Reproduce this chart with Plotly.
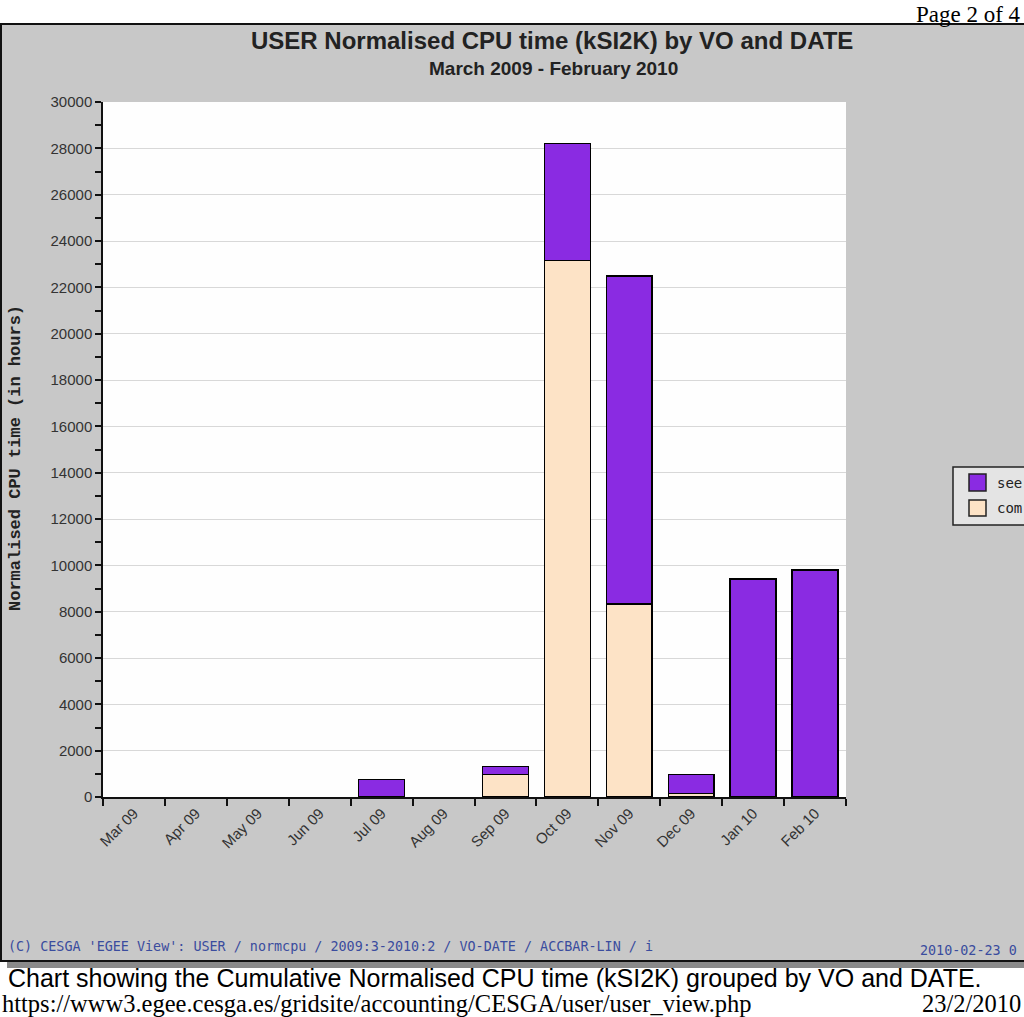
import plotly.graph_objects as go

months = ["Mar 09", "Apr 09", "May 09", "Jun 09", "Jul 09", "Aug 09",
          "Sep 09", "Oct 09", "Nov 09", "Dec 09", "Jan 10", "Feb 10"]
see_vals = [0, 0, 0, 0, 760, 0, 330, 5050, 14160, 830, 9400, 9800]
comp_vals = [0, 0, 0, 0, 0, 0, 980, 23160, 8330, 150, 0, 0]
vo_names = ["see", "com"]
colors = ["#8a2be2", "#fde3c6"]

W, H = 1024, 1017
L, R, T, B = 103, 178, 102, 220
PW, PH = W - L - R, H - T - B


def px(x):
    return (x - L) / PW


def py(y):
    return (H - B - y) / PH


def nz(vals):
    # empty months draw no bar at all
    return [v if v else None for v in vals]


fig = go.Figure()
fig.add_trace(go.Bar(x=months, y=nz(comp_vals), name=vo_names[1], marker_color=colors[1],
                     marker_line=dict(color="black", width=1.5), showlegend=False))
fig.add_trace(go.Bar(x=months, y=nz(see_vals), name=vo_names[0], marker_color=colors[0],
                     marker_line=dict(color="black", width=1.5), showlegend=False))

shapes = []
# gray panel
shapes.append(dict(type="rect", xref="paper", yref="paper", x0=px(0), x1=px(1030), y0=py(961), y1=py(24),
                   fillcolor="#c8c8c8", line_width=0, layer="below"))
# shadow
shapes.append(dict(type="rect", xref="paper", yref="paper", x0=px(7), x1=px(1030), y0=py(968), y1=py(962),
                   fillcolor="#8a8a8a", line_width=0, layer="below"))
# borders
shapes.append(dict(type="line", xref="paper", yref="paper", x0=px(0), x1=px(1030), y0=py(24), y1=py(24),
                   line=dict(color="#111", width=2), layer="below"))
shapes.append(dict(type="line", xref="paper", yref="paper", x0=px(1), x1=px(1), y0=py(24), y1=py(961),
                   line=dict(color="#111", width=2), layer="below"))
shapes.append(dict(type="line", xref="paper", yref="paper", x0=px(0), x1=px(1030), y0=py(961), y1=py(961),
                   line=dict(color="#111", width=2), layer="below"))
# white plot area
shapes.append(dict(type="rect", xref="paper", yref="paper", x0=0, x1=1, y0=0, y1=1,
                   fillcolor="#fefefe", line_width=0, layer="below"))
# legend box
shapes.append(dict(type="rect", xref="paper", yref="paper", x0=px(953), x1=px(1040), y0=py(525), y1=py(467),
                   fillcolor="#e4e4e4", line=dict(color="#222", width=1.5)))
shapes.append(dict(type="rect", xref="paper", yref="paper", x0=px(969), x1=px(986), y0=py(491), y1=py(474),
                   fillcolor=colors[0], line=dict(color="#222", width=1.5)))
shapes.append(dict(type="rect", xref="paper", yref="paper", x0=px(969), x1=px(986), y0=py(516), y1=py(500),
                   fillcolor=colors[1], line=dict(color="#222", width=1.5)))

annotations = []


def ann(text, x, y, size, family, color="black", xanchor="left", bold=False, textangle=0, yanchor="middle"):
    if bold:
        text = "<b>" + text + "</b>"
    annotations.append(dict(text=text, x=px(x), y=py(y), xref="paper", yref="paper", showarrow=False,
                            xanchor=xanchor, yanchor=yanchor, textangle=textangle,
                            font=dict(size=size, family=family, color=color)))


ann("Page 2 of 4", 1023, 0, 23, "Liberation Serif", xanchor="right", yanchor="top")
ann("USER Normalised CPU time (kSI2K) by VO and DATE", 552, 40, 24, "Liberation Sans", color="#222",
    xanchor="center", bold=True)
ann("March 2009 - February 2010", 553, 69, 19, "Liberation Sans", color="#222", xanchor="center", bold=True)
ann("Normalised CPU time (in hours)", 15, 458, 17, "Liberation Mono", color="#222", xanchor="center",
    bold=True, textangle=-90)
ann(vo_names[0], 995, 483, 14, "DejaVu Sans Mono", color="#222")
ann(vo_names[1], 995, 508, 14, "DejaVu Sans Mono", color="#222")
ann("(C) CESGA 'EGEE View': USER / normcpu / 2009:3-2010:2 / VO-DATE / ACCBAR-LIN / i", 6, 946, 13.4,
    "DejaVu Sans Mono", color="#3a4c9e")
ann("2010-02-23 0", 918, 950, 13.4, "DejaVu Sans Mono", color="#3a4c9e")
ann("Chart showing the Cumulative Normalised CPU time (kSI2K) grouped by VO and DATE.", 6, 978, 25,
    "Liberation Sans")
ann("https://www3.egee.cesga.es/gridsite/accounting/CESGA/user/user_view.php", 0, 1003, 24.5,
    "Liberation Serif")
ann("23/2/2010", 1023, 1003, 24.5, "Liberation Serif", xanchor="right")

fig.update_layout(
    width=W, height=H,
    margin=dict(l=L, r=R, t=T, b=B, pad=0, autoexpand=False),
    paper_bgcolor="white", plot_bgcolor="rgba(0,0,0,0)",
    barmode="stack", bargap=0.26,
    shapes=shapes, annotations=annotations,
    showlegend=False,
    xaxis=dict(showline=True, linecolor="#111", linewidth=1.5, ticks="outside", tickson="boundaries",
               ticklen=7, tickwidth=1.5, tickcolor="#111", tickangle=-45,
               tickfont=dict(size=15, family="Liberation Sans", color="#333"), showgrid=False),
    yaxis=dict(range=[0, 30000], dtick=2000, tickformat="d", showline=True, linecolor="#111", linewidth=1.5,
               ticks="outside", ticklen=6, tickwidth=1.5, tickcolor="#111",
               tickfont=dict(size=15, family="Liberation Sans", color="#333"),
               showgrid=True, gridcolor="#d8d8d8", gridwidth=1, zeroline=False,
               minor=dict(dtick=1000, ticks="outside", ticklen=6, tickwidth=1.5, tickcolor="#111",
                          showgrid=False)),
)

fig.write_html("out.html")
